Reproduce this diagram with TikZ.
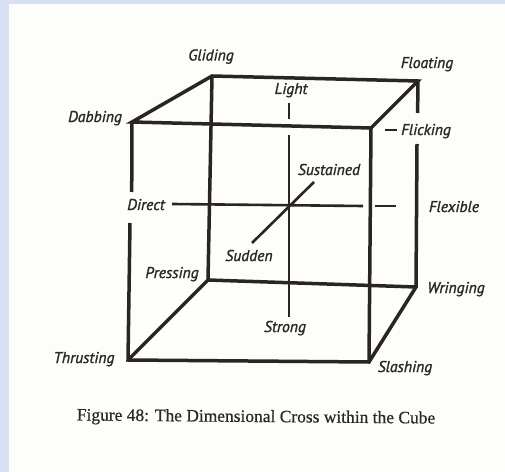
\documentclass[tikz,border=0pt]{standalone}
\usepackage{fontspec}
\setmainfont{Liberation Serif}[FakeBold=0.6]
\newfontfamily\labfont{PT Sans}[ItalicFeatures={FakeBold=1.4}]
\definecolor{ink}{HTML}{2A2523}
\definecolor{txt}{HTML}{2B2827}
\definecolor{paper}{HTML}{FDFDFC}
\definecolor{bord}{HTML}{D7E1F3}
\begin{document}
\begin{tikzpicture}[x=1bp,y=-1bp,
  edge/.style={draw=ink,line width=3.5bp,line join=miter},
  axis/.style={draw=ink,line width=2.6bp},
  lab/.style={text=txt,inner sep=0pt,anchor=base,font=\labfont\itshape\fontsize{15.7}{18}\selectfont},
  captext/.style={text=txt,inner sep=0pt,anchor=base,font=\fontsize{17.5}{20}\selectfont}]
\useasboundingbox (0,0) rectangle (505,472);
\fill[paper] (0,0) rectangle (505,472);
\fill[bord] (0,0) rectangle (9,472);
\fill[bord] (0,0) rectangle (505,4);
% cube corners
\coordinate (dab) at (132,122);
\coordinate (gli) at (212,76);
\coordinate (flo) at (418,81);
\coordinate (fli) at (371,128);
\coordinate (thr) at (128,360);
\coordinate (sla) at (369,362);
\coordinate (pre) at (208,280);
\coordinate (wri) at (416,287);
% gap ends
\coordinate (dabL) at (131.7,192);
\coordinate (thrU) at (130,223);
\coordinate (floL) at (417.6,113);
\coordinate (wriU) at (417,144);
% cube edges
\draw[edge] (dab) -- (gli) -- (flo) -- (fli) -- cycle;
\draw[edge] (dab) -- (dabL);
\draw[edge] (flo) -- (floL);
\draw[edge] (wriU) -- (wri) -- (sla) -- (thr) -- (thrU);
\draw[edge] (thr) -- (pre) -- (wri);
\draw[edge] (gli) -- (pre);
\draw[edge] (fli) -- (sla);
% axes
\coordinate (lt1) at (289,103);
\coordinate (lt2) at (289,119);
\coordinate (st1) at (289,135);
\coordinate (st2) at (289,317);
\coordinate (di1) at (172,204);
\coordinate (di2) at (363,206);
\coordinate (fx1) at (375,206);
\coordinate (fx2) at (396,206);
\coordinate (su1) at (252,243);
\coordinate (su2) at (314,182);
\coordinate (fk1) at (385,130);
\coordinate (fk2) at (397,130);
\draw[axis] (lt1) -- (lt2);
\draw[axis] (st1) -- (st2);
\draw[axis] (di1) -- (di2);
\draw[axis] (fx1) -- (fx2);
\draw[axis] (su1) -- (su2);
\draw[draw=ink,line width=1.5bp] (fk1) -- (fk2);
% labels
\node[lab] (lGliding) at (211,60.5) {Gliding};
\node[lab] (lFloating) at (427,68) {Floating};
\node[lab] (lLight) at (291,94) {Light};
\node[lab] (lDabbing) at (95,122) {Dabbing};
\node[lab] (lFlicking) at (426,135) {Flicking};
\node[lab] (lSustained) at (329,175) {Sustained};
\node[lab] (lDirect) at (146,210) {Direct};
\node[lab] (lFlexible) at (454,212) {Flexible};
\node[lab] (lSudden) at (249,261) {Sudden};
\node[lab] (lPressing) at (172,278) {Pressing};
\node[lab] (lWringing) at (456,293) {Wringing};
\node[lab] (lStrong) at (285,332) {Strong};
\node[lab] (lThrusting) at (84,363) {Thrusting};
\node[lab] (lSlashing) at (405,372) {Slashing};
\node[captext,rotate=-0.5] (caption) at (256,422) {Figure 48: The Dimensional Cross within the Cube};
\end{tikzpicture}
\end{document}
